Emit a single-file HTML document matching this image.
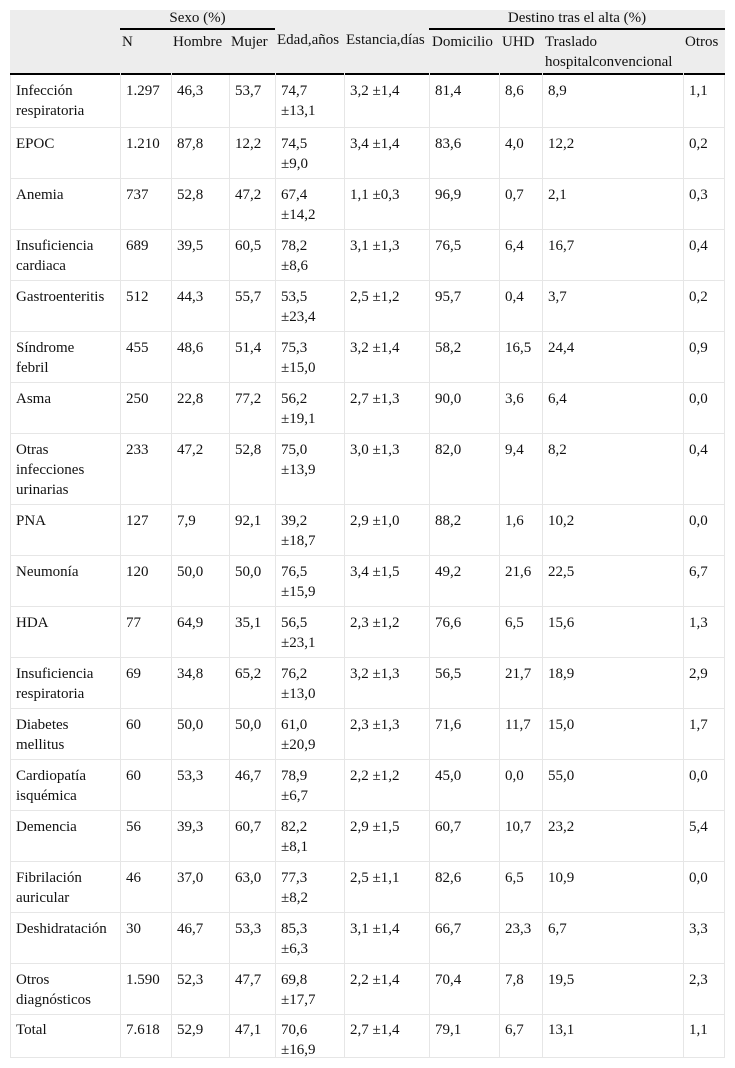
<!DOCTYPE html>
<html>
<head>
<meta charset="utf-8">
<style>
html,body{margin:0;padding:0;background:#fff;}
#wrap{position:relative;width:735px;height:1068px;overflow:hidden;background:#fff;
  font-family:"Liberation Serif","DejaVu Serif",serif;font-size:15px;color:#111;}
.hdr{position:absolute;left:10px;top:10px;width:715px;height:63px;background:#ededed;}
.t{position:absolute;line-height:20px;white-space:nowrap;}
.bar{position:absolute;background:#000;}
.gap{position:absolute;width:1px;height:2px;top:73px;background:#e6e6e6;}
.grid{position:absolute;left:10px;top:75px;display:grid;
  grid-template-columns:110px 51px 58px 46px 69px 85px 70px 43px 141px 42px;
  grid-template-rows:53px 51px 51px 51px 51px 51px 51px 71px 51px 51px 51px 51px 51px 51px 51px 51px 51px 51px 43px;}
.grid div{box-sizing:border-box;border-left:1px solid #e6e6e6;border-bottom:1px solid #e6e6e6;
  padding:6px 0 0 5px;line-height:20px;white-space:nowrap;overflow:visible;}
.grid div.r{border-right:1px solid #e6e6e6;}
.grid div.l{padding-top:5px;}
</style>
</head>
<body>
<div id="wrap">
  <div class="hdr"></div>
  <!-- header row 1 -->
  <div class="t" style="left:120px;width:155px;top:8px;text-align:center;">Sexo (%)</div>
  <div class="t" style="left:429px;width:296px;top:8px;text-align:center;">Destino tras el alta (%)</div>
  <div class="bar" style="left:120px;top:28px;width:155px;height:2px;"></div>
  <div class="bar" style="left:429px;top:28px;width:296px;height:2px;"></div>
  <!-- header row 2 -->
  <div class="t" style="left:122px;top:32px;">N</div>
  <div class="t" style="left:173px;top:32px;">Hombre</div>
  <div class="t" style="left:231px;top:32px;">Mujer</div>
  <div class="t" style="left:277px;top:30px;">Edad,años</div>
  <div class="t" style="left:346px;top:30px;">Estancia,días</div>
  <div class="t" style="left:432px;top:32px;">Domicilio</div>
  <div class="t" style="left:502px;top:32px;">UHD</div>
  <div class="t" style="left:545px;top:32px;">Traslado<br>hospitalconvencional</div>
  <div class="t" style="left:685px;top:32px;">Otros</div>
  <!-- thick bottom line -->
  <div class="bar" style="left:10px;top:73px;width:715px;height:2px;"></div>
  <div class="gap" style="left:120px;"></div>
  <div class="gap" style="left:171px;"></div>
  <div class="gap" style="left:275px;"></div>
  <div class="gap" style="left:344px;"></div>
  <div class="gap" style="left:429px;"></div>
  <div class="gap" style="left:499px;"></div>
  <div class="gap" style="left:542px;"></div>
  <div class="gap" style="left:683px;"></div>

  <div class="grid">
    <div>Infección<br>respiratoria</div><div>1.297</div><div>46,3</div><div>53,7</div><div>74,7<br>±13,1</div><div>3,2 ±1,4</div><div>81,4</div><div>8,6</div><div>8,9</div><div class="r">1,1</div>
    <div>EPOC</div><div>1.210</div><div>87,8</div><div>12,2</div><div>74,5<br>±9,0</div><div>3,4 ±1,4</div><div>83,6</div><div>4,0</div><div>12,2</div><div class="r">0,2</div>
    <div>Anemia</div><div>737</div><div>52,8</div><div>47,2</div><div>67,4<br>±14,2</div><div>1,1 ±0,3</div><div>96,9</div><div>0,7</div><div>2,1</div><div class="r">0,3</div>
    <div>Insuficiencia<br>cardiaca</div><div>689</div><div>39,5</div><div>60,5</div><div>78,2<br>±8,6</div><div>3,1 ±1,3</div><div>76,5</div><div>6,4</div><div>16,7</div><div class="r">0,4</div>
    <div>Gastroenteritis</div><div>512</div><div>44,3</div><div>55,7</div><div>53,5<br>±23,4</div><div>2,5 ±1,2</div><div>95,7</div><div>0,4</div><div>3,7</div><div class="r">0,2</div>
    <div>Síndrome<br>febril</div><div>455</div><div>48,6</div><div>51,4</div><div>75,3<br>±15,0</div><div>3,2 ±1,4</div><div>58,2</div><div>16,5</div><div>24,4</div><div class="r">0,9</div>
    <div>Asma</div><div>250</div><div>22,8</div><div>77,2</div><div>56,2<br>±19,1</div><div>2,7 ±1,3</div><div>90,0</div><div>3,6</div><div>6,4</div><div class="r">0,0</div>
    <div>Otras<br>infecciones<br>urinarias</div><div>233</div><div>47,2</div><div>52,8</div><div>75,0<br>±13,9</div><div>3,0 ±1,3</div><div>82,0</div><div>9,4</div><div>8,2</div><div class="r">0,4</div>
    <div>PNA</div><div>127</div><div>7,9</div><div>92,1</div><div>39,2<br>±18,7</div><div>2,9 ±1,0</div><div>88,2</div><div>1,6</div><div>10,2</div><div class="r">0,0</div>
    <div>Neumonía</div><div>120</div><div>50,0</div><div>50,0</div><div>76,5<br>±15,9</div><div>3,4 ±1,5</div><div>49,2</div><div>21,6</div><div>22,5</div><div class="r">6,7</div>
    <div>HDA</div><div>77</div><div>64,9</div><div>35,1</div><div>56,5<br>±23,1</div><div>2,3 ±1,2</div><div>76,6</div><div>6,5</div><div>15,6</div><div class="r">1,3</div>
    <div>Insuficiencia<br>respiratoria</div><div>69</div><div>34,8</div><div>65,2</div><div>76,2<br>±13,0</div><div>3,2 ±1,3</div><div>56,5</div><div>21,7</div><div>18,9</div><div class="r">2,9</div>
    <div>Diabetes<br>mellitus</div><div>60</div><div>50,0</div><div>50,0</div><div>61,0<br>±20,9</div><div>2,3 ±1,3</div><div>71,6</div><div>11,7</div><div>15,0</div><div class="r">1,7</div>
    <div>Cardiopatía<br>isquémica</div><div>60</div><div>53,3</div><div>46,7</div><div>78,9<br>±6,7</div><div>2,2 ±1,2</div><div>45,0</div><div>0,0</div><div>55,0</div><div class="r">0,0</div>
    <div>Demencia</div><div>56</div><div>39,3</div><div>60,7</div><div>82,2<br>±8,1</div><div>2,9 ±1,5</div><div>60,7</div><div>10,7</div><div>23,2</div><div class="r">5,4</div>
    <div>Fibrilación<br>auricular</div><div>46</div><div>37,0</div><div>63,0</div><div>77,3<br>±8,2</div><div>2,5 ±1,1</div><div>82,6</div><div>6,5</div><div>10,9</div><div class="r">0,0</div>
    <div>Deshidratación</div><div>30</div><div>46,7</div><div>53,3</div><div>85,3<br>±6,3</div><div>3,1 ±1,4</div><div>66,7</div><div>23,3</div><div>6,7</div><div class="r">3,3</div>
    <div>Otros<br>diagnósticos</div><div>1.590</div><div>52,3</div><div>47,7</div><div>69,8<br>±17,7</div><div>2,2 ±1,4</div><div>70,4</div><div>7,8</div><div>19,5</div><div class="r">2,3</div>
    <div class="l">Total</div><div class="l">7.618</div><div class="l">52,9</div><div class="l">47,1</div><div class="l">70,6<br>±16,9</div><div class="l">2,7 ±1,4</div><div class="l">79,1</div><div class="l">6,7</div><div class="l">13,1</div><div class="l r">1,1</div>
  </div>
</div>
</body>
</html>
